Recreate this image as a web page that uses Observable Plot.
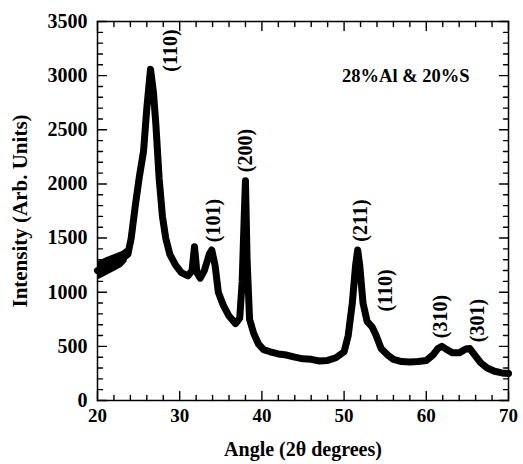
<!DOCTYPE html>
<html>
<head>
<meta charset="utf-8">
<script src="https://cdn.jsdelivr.net/npm/d3@7"></script>
<script src="https://cdn.jsdelivr.net/npm/@observablehq/plot@0.6"></script>
<style>
  body { margin: 0; background: white; }
</style>
</head>
<body>
<div id="chart"></div>
<script>
// XRD pattern data (angle 2θ in degrees, intensity in arb. units)
const angles = [20, 21, 22, 23, 23.7, 24.1, 24.6, 25.1, 25.6, 26.0, 26.45, 26.8, 27.1, 27.5, 27.9, 28.3, 28.8, 29.5, 30.2, 31.0, 31.5, 31.8, 32.1, 32.5, 33.0, 33.6, 33.9, 34.3, 34.7, 35.3, 36.0, 36.8, 37.3, 37.6, 37.85, 38.0, 38.2, 38.5, 39.0, 39.6, 40.2, 41, 42, 43, 44, 45, 46, 47, 48, 49, 50, 50.5, 51, 51.4, 51.65, 51.9, 52.3, 52.8, 53.4, 53.9, 54.5, 55.3, 56, 57, 58, 59, 60, 60.8, 61.4, 61.9, 62.5, 63.2, 64, 64.8, 65.3, 65.9, 66.6, 67.4, 68.3, 69.2, 70];
const intensity = [1200, 1240, 1275, 1310, 1350, 1500, 1800, 2070, 2300, 2700, 3060, 2850, 2550, 2050, 1700, 1500, 1350, 1250, 1180, 1150, 1200, 1420, 1180, 1130, 1200, 1350, 1390, 1250, 1000, 880, 780, 710, 760, 1100, 1700, 2030, 1300, 750, 620, 520, 470, 450, 430, 420, 400, 385, 380, 365, 370, 395, 450, 600, 900, 1250, 1390, 1250, 900, 730, 680, 600, 480, 420, 380, 360, 355, 360, 370, 420, 480, 500, 470, 440, 440, 475, 480, 420, 350, 300, 270, 255, 250];

// Noise envelope in the low-angle region
const bandAngles = [20, 21, 22, 23, 23.6];
const bandLow = [1110, 1150, 1190, 1230, 1280];
const bandHigh = [1280, 1315, 1345, 1375, 1410];

// Peak (hkl) annotations
const peakLabels = ["(110)", "(101)", "(200)", "(211)", "(110)", "(310)", "(301)"];
const peakLabelAngle = [28.9, 34.1, 38.0, 52.0, 55.0, 61.7, 66.2];
const peakLabelIntensity = [3232, 1662, 2308, 1662, 1016, 776, 739];

const sampleLabel = ["28%Al & 20%S"];
const sampleLabelAngle = [57.5];
const sampleLabelIntensity = [3000];

const xMajorTicks = [20, 30, 40, 50, 60, 70];
const xMinorTicks = [22, 24, 26, 28, 32, 34, 36, 38, 42, 44, 46, 48, 52, 54, 56, 58, 62, 64, 66, 68];
const yMajorTicks = [0, 500, 1000, 1500, 2000, 2500, 3000, 3500];
const yMinorTicks = [100, 200, 300, 400, 600, 700, 800, 900, 1100, 1200, 1300, 1400, 1600, 1700, 1800, 1900, 2100, 2200, 2300, 2400, 2600, 2700, 2800, 2900, 3100, 3200, 3300, 3400];

const xTitle = "Angle (2θ degrees)";
const yTitle = "Intensity (Arb. Units)";

const xDomain = [20, 70];
const yDomain = [0, 3500];

const pattern = angles.map((a, i) => ({angle: a, intensity: intensity[i]}));
const band = bandAngles.map((a, i) => ({angle: a, low: bandLow[i], high: bandHigh[i]}));
const peaks = peakLabels.map((t, i) => ({label: t, angle: peakLabelAngle[i], intensity: peakLabelIntensity[i]}));
const sample = sampleLabel.map((t, i) => ({label: t, angle: sampleLabelAngle[i], intensity: sampleLabelIntensity[i]}));

const plain = d => String(d);
const W = 523, H = 464, ML = 97, MR = 15, MT = 21, MB = 64;
const FW = W - ML - MR, FH = H - MT - MB;
const MAJ = 9, MIN = 5;
const xPerPx = (xDomain[1] - xDomain[0]) / FW;
const yPerPx = (yDomain[1] - yDomain[0]) / FH;

// Inward tick segments: two points per tick, grouped by key, drawn with a line mark
const tickSegments = [];
function addX(values, len) {
  for (const v of values) {
    tickSegments.push({key: `b${v}`, x: v, y: yDomain[0]}, {key: `b${v}`, x: v, y: yDomain[0] + len * yPerPx});
    tickSegments.push({key: `t${v}`, x: v, y: yDomain[1]}, {key: `t${v}`, x: v, y: yDomain[1] - len * yPerPx});
  }
}
function addY(values, len) {
  for (const v of values) {
    tickSegments.push({key: `l${v}`, x: xDomain[0], y: v}, {key: `l${v}`, x: xDomain[0] + len * xPerPx, y: v});
    tickSegments.push({key: `r${v}`, x: xDomain[1], y: v}, {key: `r${v}`, x: xDomain[1] - len * xPerPx, y: v});
  }
}
addX(xMajorTicks, MAJ);
addX(xMinorTicks, MIN);
addY(yMajorTicks, MAJ);
addY(yMinorTicks, MIN);

const chart = Plot.plot({
  width: W,
  height: H,
  marginLeft: ML,
  marginRight: MR,
  marginTop: MT,
  marginBottom: MB,
  style: {fontFamily: "'Liberation Serif', 'Times New Roman', serif", fontWeight: "bold", fontSize: "19px", color: "black", background: "white"},
  x: {domain: xDomain},
  y: {domain: yDomain},
  marks: [
    Plot.frame({stroke: "black", fill: "none", strokeWidth: 1.5}),
    Plot.axisX({ticks: xMajorTicks, tickSize: 0, tickPadding: 8, fontSize: 19, label: null, tickFormat: plain}),
    Plot.axisX({ticks: [], tickSize: 0, label: xTitle, labelAnchor: "center", labelArrow: "none", labelOffset: 55, fontSize: 20}),
    Plot.axisY({ticks: yMajorTicks, tickSize: 0, tickPadding: 10, fontSize: 20, label: null, tickFormat: plain}),
    Plot.axisY({ticks: [], tickSize: 0, label: yTitle, labelAnchor: "center", labelArrow: "none", labelOffset: 85, fontSize: 21}),
    Plot.line(tickSegments, {x: "x", y: "y", z: "key", stroke: "black", strokeWidth: 1.4}),
    Plot.areaY(band, {x: "angle", y1: "low", y2: "high", fill: "black"}),
    Plot.line(pattern, {x: "angle", y: "intensity", stroke: "black", strokeWidth: 7, strokeLinejoin: "round", curve: "linear"}),
    Plot.text(peaks, {x: "angle", y: "intensity", text: "label", rotate: -90, fill: "black", fontSize: 20, fontWeight: "bold", textAnchor: "middle"}),
    Plot.text(sample, {x: "angle", y: "intensity", text: "label", fill: "black", fontSize: 18.5, fontWeight: "bold", textAnchor: "middle"})
  ]
});
document.getElementById("chart").appendChild(chart);
</script>
</body>
</html>
